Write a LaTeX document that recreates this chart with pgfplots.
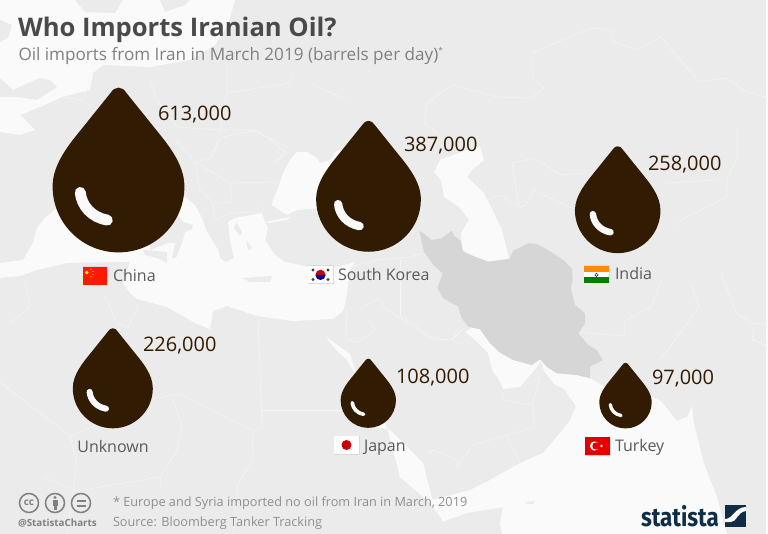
\documentclass[border=0pt]{standalone}
\usepackage{pgfplots}
\pgfplotsset{compat=1.18}
\usepackage{fontspec}
\setmainfont{Open Sans}
\newfontfamily\logofont{Fira Sans}
\definecolor{land}{HTML}{EBEBEB}
\definecolor{sea}{HTML}{FAFAFA}
\definecolor{iran}{HTML}{D6D6D6}
\definecolor{oil}{HTML}{321B03}
\definecolor{titlec}{HTML}{4A4A4A}
\definecolor{subc}{HTML}{808080}
\definecolor{labc}{HTML}{5A5A5A}
\definecolor{footc}{HTML}{8F8F8F}
\definecolor{logoc}{HTML}{0F2D46}
\definecolor{borderc}{HTML}{F5F5F5}
\tikzset{lab/.style={anchor=base west,inner sep=0pt,outer sep=0pt}}
\pgfdeclareplotmark{drop}{%
  \pgfmathsetlengthmacro{\hlw}{0.19*\pgfplotmarksize-1.6pt}%
  \pgfsetfillcolor{oil}%
  \pgfpathmoveto{\pgfpoint{0pt}{1.5\pgfplotmarksize}}%
  \pgfpathcurveto{\pgfpoint{0.05\pgfplotmarksize}{1.5\pgfplotmarksize}}{\pgfpoint{0.09\pgfplotmarksize}{1.47\pgfplotmarksize}}{\pgfpoint{0.12\pgfplotmarksize}{1.42\pgfplotmarksize}}%
  \pgfpathlineto{\pgfpoint{0.53\pgfplotmarksize}{0.91\pgfplotmarksize}}%
  \pgfpathcurveto{\pgfpoint{0.74\pgfplotmarksize}{0.65\pgfplotmarksize}}{\pgfpoint{1\pgfplotmarksize}{0.35\pgfplotmarksize}}{\pgfpoint{1\pgfplotmarksize}{0pt}}%
  \pgfpathcurveto{\pgfpoint{1\pgfplotmarksize}{-0.5523\pgfplotmarksize}}{\pgfpoint{0.5523\pgfplotmarksize}{-1\pgfplotmarksize}}{\pgfpoint{0pt}{-1\pgfplotmarksize}}%
  \pgfpathcurveto{\pgfpoint{-0.5523\pgfplotmarksize}{-1\pgfplotmarksize}}{\pgfpoint{-1\pgfplotmarksize}{-0.5523\pgfplotmarksize}}{\pgfpoint{-1\pgfplotmarksize}{0pt}}%
  \pgfpathcurveto{\pgfpoint{-1\pgfplotmarksize}{0.35\pgfplotmarksize}}{\pgfpoint{-0.74\pgfplotmarksize}{0.65\pgfplotmarksize}}{\pgfpoint{-0.53\pgfplotmarksize}{0.91\pgfplotmarksize}}%
  \pgfpathlineto{\pgfpoint{-0.12\pgfplotmarksize}{1.42\pgfplotmarksize}}%
  \pgfpathcurveto{\pgfpoint{-0.09\pgfplotmarksize}{1.47\pgfplotmarksize}}{\pgfpoint{-0.05\pgfplotmarksize}{1.5\pgfplotmarksize}}{\pgfpoint{0pt}{1.5\pgfplotmarksize}}%
  \pgfpathclose\pgfusepath{fill}%
  \pgfsetstrokecolor{sea}\pgfsetroundcap\pgfsetlinewidth{\hlw}%
  \pgfpathmoveto{\pgfpoint{-0.58\pgfplotmarksize}{-0.09\pgfplotmarksize}}%
  \pgfpathcurveto{\pgfpoint{-0.56\pgfplotmarksize}{-0.30\pgfplotmarksize}}{\pgfpoint{-0.40\pgfplotmarksize}{-0.47\pgfplotmarksize}}{\pgfpoint{-0.17\pgfplotmarksize}{-0.51\pgfplotmarksize}}%
  \pgfusepath{stroke}%
}
\pgfplotstableread{
x y v
118.5 186.5 613000
368.5 199.4 387000
617.7 210.4 258000
112.8 388.3 226000
368.3 400.2 108000
625.5 402.2 97000
}\drops
\newcommand{\poly}[2]{\addplot[fill=#1,draw=none] coordinates {#2} --cycle;}
\newcommand{\bd}[1]{\addplot[draw=borderc,line width=0.5pt,line join=round] coordinates {#1};}
\begin{document}
\begin{tikzpicture}
\begin{axis}[
  scale only axis,width=768pt,height=534pt,
  xmin=0,xmax=768,ymin=0,ymax=534,y dir=reverse,
  hide axis,clip=true,
]
% ---- map
\poly{land}{(0,0)(768,0)(768,534)(0,534)}
\poly{sea}{(0,0)(235,0)(228,25)(215,45)(190,60)(150,67)(103,65)(93,73)(90,90)(62,97)(45,105)(20,115)(35,130)(20,135)(0,132)}
\poly{land}{(75,0)(85,12)(115,13)(123,0)}
\poly{land}{(160,0)(165,12)(185,5)(190,0)}
\poly{land}{(0,78)(13,90)(40,78)(50,80)(57,87)(37,100)(17,97)(0,97)}
\poly{land}{(0,20)(12,25)(8,38)(0,42)}
% Mediterranean
\poly{sea}{(0,263)(23,260)(33,243)(37,228)(45,218)(60,205)(120,240)(185,197)(195,205)(202,218)(207,232)(217,248)(226,262)(234,258)(230,240)(228,222)(235,218)(262,213)(265,222)(268,228)(265,240)(275,255)(285,262)(300,265)(320,270)(345,265)(355,262)(350,270)(346,300)(343,311)(333,319)(293,321)(257,316)(227,306)(213,311)(210,329)(197,324)(167,307)(137,299)(130,293)(123,283)(130,262)(113,262)(67,263)(37,270)(20,276)(0,278)}
\poly{land}{(150,215)(178,215)(183,222)(193,225)(192,229)(185,232)(183,240)(176,258)(172,258)(175,243)(168,243)(150,250)}
\poly{land}{(143,250)(167,252)(167,263)(157,258)(145,255)}
\poly{land}{(242,278)(272,276)(270,282)(250,282)}
\poly{land}{(218,248)(228,252)(226,262)(220,258)}
\poly{land}{(236,222)(242,232)(240,236)(234,228)}
\poly{land}{(246,240)(252,248)(248,250)}
% Black Sea and Marmara
\poly{sea}{(273,200)(278,188)(283,173)(290,160)(297,152)(307,152)(317,158)(320,163)(330,160)(335,152)(340,150)(345,170)(330,208)(297,210)(287,215)(272,205)}
\poly{sea}{(265,222)(290,217)(287,220)(270,223)}
% Caspian
\poly{sea}{(434,172)(440,160)(461,152)(480,146)(484,160)(472,170)(467,177)(484,193)(494,213)(502,230)(509,258)(491,262)(474,257)(462,250)(461,233)(469,220)(459,207)(444,197)(441,180)}
% Arabian Sea, Gulf
\poly{sea}{(465,332)(473,327)(480,329)(490,343)(500,352)(513,360)(531,365)(540,359)(547,367)(557,373)(577,375)(590,378)(610,390)(651,397)(661,401)(677,421)(687,417)(692,406)(694,424)(704,464)(717,497)(724,524)(727,534)(502,534)(500,523)(503,507)(467,513)(447,520)(443,522)(432,500)(470,490)(490,480)(520,463)(543,453)(560,433)(570,420)(576,406)(564,389)(554,384)(544,371)(541,361)(537,367)(520,387)(503,389)(498,378)(493,372)(488,353)(473,338)}
\poly{sea}{(325,336)(337,351)(347,360)(387,427)(400,477)(430,503)(440,517)(443,520)(432,498)(430,490)(423,463)(390,430)(373,427)(350,354)}
\poly{land}{(525,502)(535,501)(533,504)(527,504)}
\poly{sea}{(766,0)(768,0)(768,534)(766,534)}
% Iran
\poly{iran}{(419.3,230.7)(423.3,233.3)(431.7,240)(441.7,238.3)(451.7,230.7)(455,236.7)(460.7,240.7)(463.3,251.7)(475,256.7)(488.3,261.7)(500,260)(509.3,259.3)(513.3,250.7)(528.3,243.3)(536.7,244)(546.7,249.3)(563.3,260)(571.7,268.3)(572.7,280)(570.7,288.3)(575,305)(585,313.3)(585,323.3)(578.3,333.3)(588.3,345)(596.7,350)(602.7,360)(590,366.7)(590,378.3)(576.7,375)(556.7,373.3)(546.7,366.7)(540,359.3)(531.7,365)(513.3,360)(500,352.7)(490,343.3)(480,329.3)(468.3,326.7)(461.7,318.3)(458.3,306.7)(443.3,298.3)(437.3,288.3)(442.7,273.3)(433.3,265)(424,251.7)}
% borders
\bd{(532,53)(591,28)(611,30)(614,42)(637,50)(661,37)(699,82)(727,78)(746,92)(766,97)}
\bd{(532,53)(532,78)(544,88)(531,98)(497,97)(452,85)(427,103)(424,123)(437,133)}
\bd{(512,163)(534,158)(561,175)(587,173)}
\bd{(512,163)(519,207)(526,205)(534,190)(571,208)}
\bd{(487,200)(501,195)(517,207)}
\bd{(737,127)(737,157)(727,180)(727,197)(681,220)(677,227)}
\bd{(667,183)(717,180)}
\bd{(579,332)(624,336)(625,321)(651,307)(661,281)}
\bd{(691,284)(699,307)(667,351)(657,361)}
\bd{(721,274)(737,314)(754,324)(766,324)}
\bd{(754,327)(752,339)(766,346)}
\bd{(380,300)(385,308)(433,340)(452,340)(465,345)}
\bd{(380,298)(362,307)}
\bd{(452,340)(457,330)(465,330)}
\bd{(367,317)(375,330)(358,342)(347,340)}
\bd{(347,308)(346,340)}
\bd{(502,390)(503,400)(532,405)(540,377)}
\bd{(532,405)(535,427)(473,445)(457,467)(457,460)(433,450)(428,453)}
\bd{(507,437)(520,462)}
\bd{(258,316)(262,427)(253,431)(180,394)(153,399)}
\bd{(262,410)(343,410)}
\bd{(0,382)(70,436)(100,424)}
\bd{(172,399)(182,424)(177,451)(160,477)(160,491)}
\bd{(253,431)(252,461)(238,484)(233,534)}
\bd{(70,436)(77,464)(67,534)}
\bd{(43,477)(77,491)(160,477)}
\bd{(103,293)(117,323)(128,327)(138,307)}
\bd{(25,280)(30,307)(10,323)}
\bd{(150,80)(157,100)(177,127)(220,130)(253,130)(287,147)(277,163)}
\bd{(220,130)(213,157)(193,163)}
\bd{(227,63)(227,93)(220,130)}
\bd{(293,73)(290,83)(227,93)}
\bd{(310,83)(347,100)}
\bd{(62,97)(83,100)(90,80)}
\bd{(175,140)(195,162)(230,183)(277,182)}
\bd{(208,160)(222,137)(257,130)(287,153)(273,163)}
\bd{(195,162)(200,190)(213,203)(232,203)(230,183)}
\bd{(213,203)(215,220)(232,213)(262,212)(263,205)}
\bd{(350,267)(377,260)(410,257)(422,253)}
\bd{(400,315)(433,338)(452,340)(462,330)}
\bd{(400,260)(400,315)}
% ---- the drops, sized by the value
\addplot[scatter,only marks,mark=drop,point meta=\thisrow{v},
  visualization depends on={0.08417*sqrt(\thisrow{v}) \as \perpointmarksize},
  scatter/@pre marker code/.append style={/tikz/mark size=\perpointmarksize}]
  table[x=x,y=y] {\drops};
% ---- flags
\fill[black!15] (82.5,266.5) rectangle (107.5,285.5);
\fill[red!80!orange] (83,267) rectangle (107,285);
\fill[yellow] (86.8,272.5) circle (1.9pt);
\fill[yellow] (91,269.5) circle (0.6pt);
\fill[yellow] (93,271.5) circle (0.6pt);
\fill[yellow] (93,274.5) circle (0.6pt);
\fill[yellow] (91,276.5) circle (0.6pt);
\fill[black!15] (307.5,265.5) rectangle (333.5,284);
\fill[white] (308,266) rectangle (333,283.5);
\fill[red!80!black] (320.5,274.7) circle (5pt);
\fill[blue!60!black] (315.5,275) arc[start angle=180,end angle=360,radius=5pt] -- cycle;
\fill[black!75] (313,270) circle (1.7pt);
\fill[black!75] (328,270) circle (1.7pt);
\fill[black!75] (313,279.5) circle (1.7pt);
\fill[black!75] (328,279.5) circle (1.7pt);
\fill[black!15] (583.5,265.5) rectangle (609.5,283.5);
\fill[orange!90!yellow] (584,266) rectangle (609,272);
\fill[white] (584,272) rectangle (609,277.5);
\fill[green!50!black] (584,277.5) rectangle (609,283);
\draw[blue!60!black,line width=0.4pt] (596.5,274.8) circle (1.7pt);
\fill[black!15] (333.5,435.5) rectangle (359.5,454.5);
\fill[white] (334,436) rectangle (359,454);
\fill[red!80!black] (346.5,445) circle (5pt);
\fill[black!15] (584.5,436.5) rectangle (610.5,455.5);
\fill[red!90!black] (585,437) rectangle (610,455);
\fill[white] (594.5,446) circle (4.6pt);
\fill[red!90!black] (596,446) circle (3.7pt);
\fill[white] (601.5,446) circle (1.3pt);
% ---- text
\node[lab,font=\bfseries\fontsize{25.6}{25.6}\selectfont,text=titlec] at (18,37) {Who Imports Iranian Oil?};
\node[lab,font=\fontsize{17.1}{17.1}\selectfont,text=subc] at (18.5,61) {Oil imports from Iran in March 2019 (barrels per day)\raisebox{0.45em}{\fontsize{8}{8}\selectfont *}};
\node[lab,font=\fontsize{20}{20}\selectfont,text=oil] at (158,121) {613,000};
\node[lab,font=\fontsize{20}{20}\selectfont,text=oil] at (404,152) {387,000};
\node[lab,font=\fontsize{20}{20}\selectfont,text=oil] at (648,171) {258,000};
\node[lab,font=\fontsize{20}{20}\selectfont,text=oil] at (143,352) {226,000};
\node[lab,font=\fontsize{20}{20}\selectfont,text=oil] at (396,383) {108,000};
\node[lab,font=\fontsize{20}{20}\selectfont,text=oil] at (652,384) {97,000};
\node[lab,font=\fontsize{16}{16}\selectfont,text=labc] at (113,281.5) {China};
\node[lab,font=\fontsize{16}{16}\selectfont,text=labc] at (338,280.5) {South Korea};
\node[lab,font=\fontsize{16}{16}\selectfont,text=labc] at (615,279.5) {India};
\node[anchor=base,inner sep=0pt,font=\fontsize{16}{16}\selectfont,text=labc] at (113,452) {Unknown};
\node[lab,font=\fontsize{16}{16}\selectfont,text=labc] at (364,451) {Japan};
\node[lab,font=\fontsize{16}{16}\selectfont,text=labc] at (615,451) {Turkey};
\node[lab,font=\fontsize{12.7}{12.7}\selectfont,text=footc] at (113,506) {* Europe and Syria imported no oil from Iran in March, 2019};
\node[lab,font=\fontsize{12.7}{12.7}\selectfont,text=footc] at (113,526) {Source: Bloomberg Tanker Tracking};
\node[lab,font=\bfseries\fontsize{9.8}{9.8}\selectfont,text=subc] at (18,526) {@StatistaCharts};
% cc icons
\draw[subc,line width=1.5pt] (29,503) circle (9.5pt) (55,503) circle (9.5pt) (81,503) circle (9.5pt);
\node[inner sep=0pt,font=\bfseries\fontsize{10}{10}\selectfont,text=subc] at (29,502.5) {cc};
\fill[subc] (55,497.5) circle (1.7pt);
\fill[subc] (52.5,500) rectangle (57.5,505.5);
\fill[subc] (53.5,505) rectangle (56.5,510);
\fill[subc] (76.5,499.5) rectangle (85.5,501.5);
\fill[subc] (76.5,504.5) rectangle (85.5,506.5);
% logo
\node[lab,font=\logofont\bfseries\fontsize{26}{26}\selectfont,text=logoc] at (641,526) {\scalebox{0.86}[1]{statista}};
\fill[logoc] (725,505) rectangle (746,527);
\fill[sea] (725,522) -- (731,522) .. controls (737,522) and (737,512) .. (746,511) -- (746,507) .. controls (735,507) and (733,519) .. (725,519) -- cycle;
\end{axis}
\end{tikzpicture}
\end{document}
